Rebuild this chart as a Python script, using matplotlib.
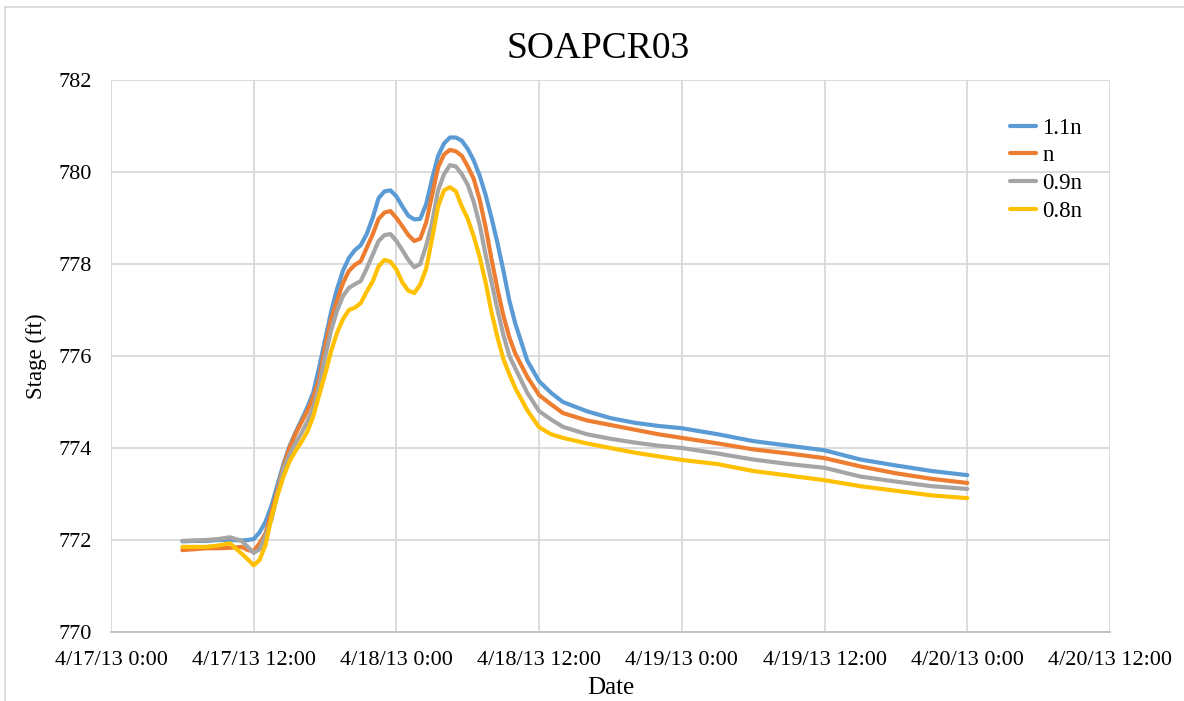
import matplotlib
matplotlib.use("Agg")
import matplotlib.pyplot as plt
import matplotlib.dates as mdates
from matplotlib.lines import Line2D
import pandas as pd

plt.rcParams['font.family'] = ['Liberation Serif', 'DejaVu Serif']

title = "SOAPCR03"
start = "2013-04-17 00:00"
hours = [6, 7, 8, 9, 10, 11, 11.5,
         12, 12.5, 13, 13.5, 14, 14.5, 15, 15.5, 16, 16.5,
         17, 17.5, 18, 18.5, 19, 19.5, 20, 20.5, 21, 21.5,
         22, 22.5, 23, 23.5, 24, 24.5, 25, 25.5, 26, 26.5,
         27, 27.5, 28, 28.5, 29, 29.5, 30, 30.5, 31, 31.5,
         32, 32.5, 33, 33.5, 34,
         35, 36, 37, 38, 40, 42, 44, 46, 48, 51, 54, 57, 60, 63, 66, 69, 72]

s_11n = [771.97, 771.98, 771.98, 772.00, 772.00, 771.99, 772.00,
         772.02, 772.17, 772.40, 772.75, 773.20, 773.65, 774.03, 774.33, 774.60, 774.88,
         775.20, 775.75, 776.35, 776.95, 777.45, 777.85, 778.13, 778.30, 778.41, 778.65,
         779.00, 779.43, 779.58, 779.60, 779.47, 779.25, 779.05, 778.97, 778.98, 779.30,
         779.85, 780.35, 780.62, 780.75, 780.75, 780.68, 780.50, 780.25, 779.92, 779.50,
         779.00, 778.45, 777.85, 777.20, 776.70,
         775.90, 775.45, 775.20, 775.00, 774.80, 774.65, 774.55, 774.48, 774.43, 774.30,
         774.15, 774.05, 773.95, 773.75, 773.62, 773.50, 773.41]
s_n = [771.78, 771.80, 771.82, 771.82, 771.83, 771.85, 771.78,
       771.76, 771.93, 772.15, 772.60, 773.08, 773.60, 774.00, 774.30, 774.55, 774.80,
       775.10, 775.50, 776.20, 776.80, 777.20, 777.58, 777.85, 777.98, 778.06, 778.35,
       778.64, 778.98, 779.12, 779.15, 779.00, 778.82, 778.63, 778.50, 778.55, 778.90,
       779.50, 780.10, 780.38, 780.48, 780.45, 780.35, 780.12, 779.85, 779.40, 778.80,
       778.10, 777.45, 776.87, 776.40, 776.05,
       775.55, 775.15, 774.95, 774.76, 774.60, 774.50, 774.40, 774.30, 774.22, 774.10,
       773.97, 773.88, 773.78, 773.60, 773.45, 773.33, 773.24]
s_09n = [771.98, 771.99, 772.00, 772.02, 772.06, 771.98, 771.85,
         771.72, 771.80, 772.10, 772.45, 773.00, 773.55, 773.85, 774.10, 774.32, 774.57,
         774.87, 775.35, 775.98, 776.55, 776.98, 777.30, 777.48, 777.56, 777.63, 777.90,
         778.20, 778.50, 778.63, 778.65, 778.50, 778.30, 778.09, 777.93, 778.00, 778.40,
         778.90, 779.60, 779.95, 780.15, 780.12, 779.95, 779.72, 779.35, 778.85, 778.20,
         777.60, 777.00, 776.45, 776.00, 775.73,
         775.20, 774.80, 774.62, 774.46, 774.30, 774.20, 774.12, 774.05, 774.00, 773.88,
         773.75, 773.65, 773.57, 773.38, 773.27, 773.17, 773.11]
s_08n = [771.85, 771.85, 771.85, 771.88, 771.93, 771.70, 771.58,
         771.45, 771.57, 771.90, 772.50, 772.97, 773.38, 773.70, 773.93, 774.13, 774.35,
         774.68, 775.15, 775.60, 776.10, 776.50, 776.80, 777.00, 777.05, 777.15, 777.40,
         777.62, 777.95, 778.09, 778.05, 777.88, 777.60, 777.42, 777.37, 777.55, 777.90,
         778.55, 779.25, 779.60, 779.67, 779.58, 779.25, 778.98, 778.60, 778.15, 777.60,
         776.95, 776.40, 775.93, 775.60, 775.30,
         774.82, 774.45, 774.30, 774.22, 774.10, 774.00, 773.90, 773.82, 773.74, 773.65,
         773.50, 773.40, 773.30, 773.17, 773.07, 772.97, 772.91]

series_names = ["1.1n", "n", "0.9n", "0.8n"]
series_colors = ["#5B9BD5", "#ED7D31", "#A5A5A5", "#FFC000"]
y_ticks = [770, 772, 774, 776, 778, 780, 782]
x_tick_hours = [0, 12, 24, 36, 48, 60, 72, 84]

t0 = pd.Timestamp(start)
times = [t0 + pd.Timedelta(hours=h) for h in hours]

fig = plt.figure(figsize=(11.84, 7.01), dpi=100)
ax = fig.add_axes([111/1184, 1 - 632/701, 999/1184, 552/701])

for name, vals, col in zip(series_names, [s_11n, s_n, s_09n, s_08n], series_colors):
    ax.plot(times, vals, color=col, lw=3.0, label=name, solid_capstyle='round',
            solid_joinstyle='round')

ax.set_ylim(770, 782)
ax.set_yticks(y_ticks)
ax.set_xlim(t0, t0 + pd.Timedelta(hours=84))
xt = [t0 + pd.Timedelta(hours=h) for h in x_tick_hours]
ax.set_xticks(xt)

def fmt(x, pos=None):
    d = mdates.num2date(x)
    return f"{d.month}/{d.day}/{d.strftime('%y')} {d.hour}:{d.minute:02d}"

ax.xaxis.set_major_formatter(plt.FuncFormatter(fmt))
ax.tick_params(axis='both', length=0, labelsize=16)
ax.tick_params(axis='x', pad=14)
ax.tick_params(axis='y', pad=14)

ax.grid(True, color='#D9D9D9', lw=1.3)
ax.set_axisbelow(True)
for sp in ['top', 'right', 'left']:
    ax.spines[sp].set_visible(False)
ax.spines['bottom'].set_color('#BFBFBF')
ax.spines['bottom'].set_linewidth(1.3)

ax.set_xlabel("Date", fontsize=18)
ax.xaxis.set_label_coords(0.5, -0.082)
ax.set_ylabel("Stage (ft)", fontsize=16.5)
ax.yaxis.set_label_coords(-0.064, 0.5)

fig.text(598/1184, 1 - 49/701, title, fontsize=27, ha='center', va='center')

leg = ax.legend(loc='upper left', bbox_to_anchor=(0.90, 0.932), frameon=False,
                fontsize=16.5, handlelength=1.15, handletextpad=0.25, labelspacing=0.3,
                borderpad=0, borderaxespad=0)

# chart border
fig.add_artist(Line2D([5/1184, 5/1184], [0, 1 - 7/701], color='#D9D9D9', lw=1.3,
                      transform=fig.transFigure))
fig.add_artist(Line2D([5/1184, 1], [1 - 7/701, 1 - 7/701], color='#D9D9D9', lw=1.3,
                      transform=fig.transFigure))

fig.savefig("out.png", dpi=100)
